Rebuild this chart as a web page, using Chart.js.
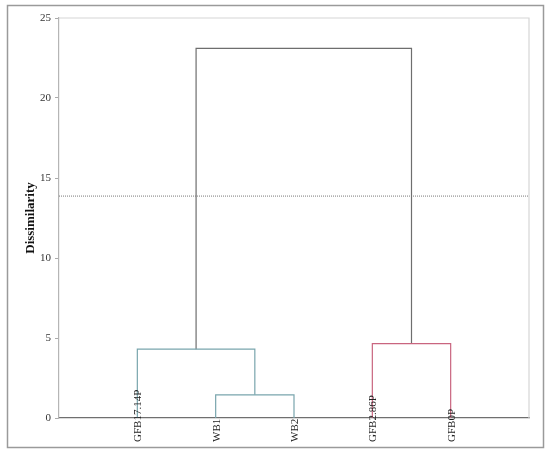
<!DOCTYPE html>
<html>
<head>
<meta charset="utf-8">
<script src="https://cdn.jsdelivr.net/npm/chart.js@4.4.0/dist/chart.umd.min.js"></script>
<style>
  html, body { margin: 0; padding: 0; background: #fff; }
  canvas { display: block; }
</style>
</head>
<body>
<canvas id="dendro" width="550" height="456"></canvas>
<script>
// Data: leaves and agglomeration steps
const leaves = ['GFB17.14P', 'WB1', 'WB2', 'GFB2.86P', 'GFB0P'];
const leafPos = [1, 2, 3, 4, 5];
// node ids: 0-4 are leaves, each merge creates node 5, 6, 7, 8
const mergeA = [1, 0, 3, 6];
const mergeB = [2, 5, 4, 7];
const mergeHeight = [1.45, 4.3, 4.65, 23.1];
const cutLevel = 13.87;
const yTicks = [0, 5, 10, 15, 20, 25];

// Styles
const linkColors = ['#79a5ad', '#79a5ad', '#c9657f', '#6e6e6e'];
const serif = "'Liberation Serif', 'DejaVu Serif', serif";

// Build link paths from the merge table
function buildLinks() {
    const nodeX = leafPos.slice();
    const nodeH = leafPos.map(() => 0);
    return mergeA.map((a, i) => {
        const b = mergeB[i];
        const h = mergeHeight[i];
        const path = [
            { x: nodeX[a], y: nodeH[a] },
            { x: nodeX[a], y: h },
            { x: nodeX[b], y: h },
            { x: nodeX[b], y: nodeH[b] }
        ];
        nodeX.push((nodeX[a] + nodeX[b]) / 2);
        nodeH.push(h);
        return path;
    });
}

const linkSets = buildLinks().map((path, i) => ({
    data: path,
    showLine: true,
    borderColor: linkColors[i],
    borderWidth: 1.2,
    pointRadius: 0,
    tension: 0
}));

const cutSet = {
    data: [{ x: 0, y: cutLevel }, { x: leaves.length + 1, y: cutLevel }],
    showLine: true,
    borderColor: '#7a7a7a',
    borderWidth: 1,
    borderDash: [1, 1],
    pointRadius: 0
};

// Outer frame + top/right plot edges
const framePlugin = {
    id: 'frame',
    beforeDraw(chart) {
        const ctx = chart.ctx;
        ctx.save();
        ctx.strokeStyle = '#9a9a9a';
        ctx.lineWidth = 1.5;
        ctx.strokeRect(7.5, 5.5, 536, 442);
        ctx.restore();
    },
    beforeDatasetsDraw(chart) {
        const { ctx, chartArea: a } = chart;
        ctx.save();
        ctx.strokeStyle = '#d6d6d6';
        ctx.lineWidth = 1.2;
        ctx.beginPath();
        ctx.moveTo(a.left, a.top);
        ctx.lineTo(a.right, a.top);
        ctx.lineTo(a.right, a.bottom);
        ctx.stroke();
        ctx.restore();
    }
};

// Leaf labels, vertical, reading upward from below the axis
const leafLabelPlugin = {
    id: 'leafLabels',
    afterDatasetsDraw(chart) {
        const ctx = chart.ctx;
        const xs = chart.scales.x;
        ctx.save();
        ctx.font = '11px ' + serif;
        ctx.fillStyle = '#222';
        ctx.textAlign = 'left';
        ctx.textBaseline = 'middle';
        leaves.forEach((name, i) => {
            ctx.save();
            ctx.translate(xs.getPixelForValue(leafPos[i]) + 1, 442);
            ctx.rotate(-Math.PI / 2);
            ctx.fillText(name, 0, 0);
            ctx.restore();
        });
        ctx.restore();
    }
};

new Chart(document.getElementById('dendro'), {
    type: 'scatter',
    data: { datasets: [...linkSets, cutSet] },
    plugins: [framePlugin, leafLabelPlugin],
    options: {
        responsive: false,
        animation: false,
        layout: { padding: { left: 19, right: 21, top: 18, bottom: 38 } },
        plugins: { legend: { display: false }, tooltip: { enabled: false } },
        scales: {
            x: {
                type: 'linear',
                min: 0,
                max: leaves.length + 1,
                grid: { display: false },
                ticks: { display: false },
                border: { display: true, color: '#6f6f6f', width: 1.2 },
                afterFit: (s) => { s.height = 0; }
            },
            y: {
                min: 0,
                max: 25,
                afterBuildTicks: (s) => { s.ticks = yTicks.map(v => ({ value: v })); },
                grid: { drawOnChartArea: false, drawTicks: true, tickLength: 4, color: '#aaa' },
                border: { display: true, color: '#b5b5b5', width: 1.2 },
                ticks: { color: '#333', padding: 4, font: { family: serif, size: 11 } },
                title: {
                    display: true,
                    text: 'Dissimilarity',
                    color: '#111',
                    font: { family: serif, size: 13, weight: 'bold' },
                    padding: { top: 4, bottom: 0 }
                },
                afterFit: (s) => { s.width = 40; }
            }
        }
    }
});
</script>
</body>
</html>
